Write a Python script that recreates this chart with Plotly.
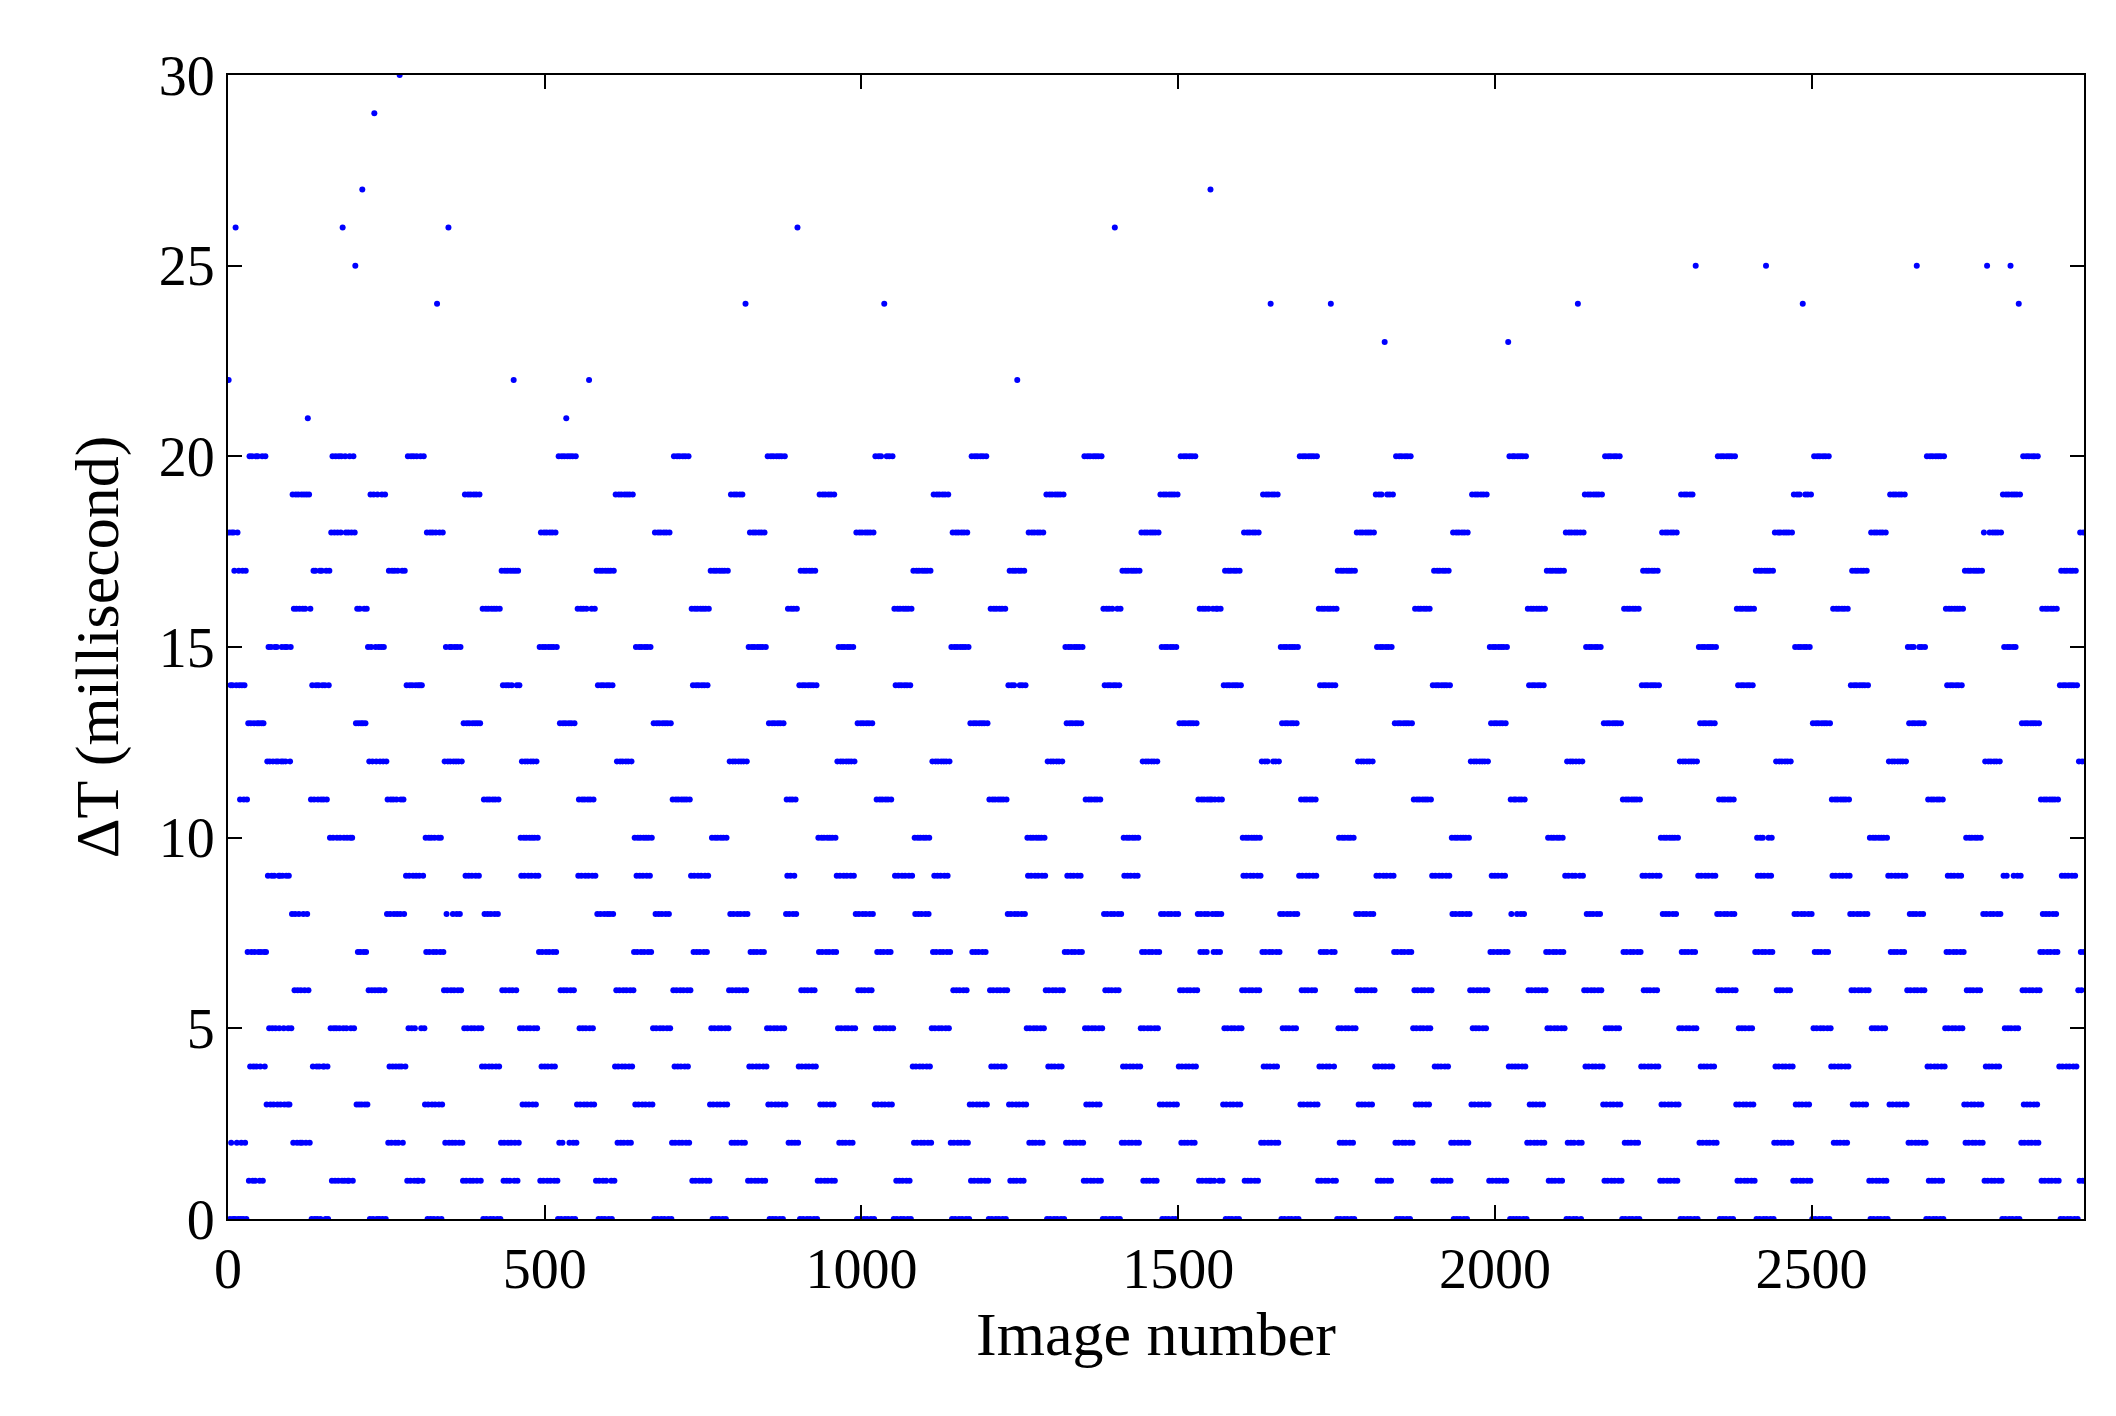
import numpy as np
import plotly.graph_objects as go

# delta T per image, one character per image
# code: 0-9 -> 0-9 ms, a..u -> 10..30 ms (spaces are only for readability)
dt_codes = [
    "mi0e2ie0ih 0qe2i0heb0 2eh0be2h0b 7d1k4d7k14 d71k4dk7d1 47dk1d74k7 3c9f5c3f95 c39f5cf3c9 593cf9c53f c9f3593cf5",
    "8j2g68jg26 j8g26j2g8j 6g2j8l6j2g b0e4hb0he4 0be4h0bhe4 b4e0hb40eh a5i1ka5i1k 5ai1k5aik1 q5a1ki5a1i 1ka5ia1k5i",
    "pd3g7d3g7d 3rd7g3d7g3 f6c0jf6c0j t6fc0j6f0c 6fj0cf6j0c 8b2h48b2h4 b8h24b8h24 u8b4h2b8h4 9e1k59e1k5 e9k15e9k1e",
    "19ek5e19k5 3a7i03a7i0 a3i70a3i7o 0a3i7a03i7 6c2f86cq2f c6f28c6f2c 8f6c28f6c2 1d5j91d5j9 d1j59d1j5d 9j1d59jd15",
    "4g0b84g0b8 g4b08g4b0g 8b4g08b4g0 2h6e12h6e1 h2e61h2e6h m12h6e1h2e 5a9c35a9c3 a5c93a5c9a 3c5a93c5a9 7f1i47f1i4",
    "f7i14f7i1f 4i7f14i7f1 0k2d60k2d6 k0dl6k0d2k 6d0k26d0k2 3g9b53g9b5 g3b95g3b9m 5b3g95b3g9 1h8e01h8e0 h1e80h1e8h",
    "0e8h10e8h1 4j6c24j6c2 j4c62j4c6j 2c4j62c4j6 7a3f97a3f9 a7f39a7f3a 9f7a39f7a3 5d0i85d0i8 d5i08d5i0d 8i5d08i5d0",
    "2b6k42b6k4 b2k64b2k6b 4k2b64k2b6 9g1e79g1e7 g9e17g9e1g 7e9g17e9g1 3h5a03h5a0 h3a50h3a5h 0a3h50a3h5 6c8j26c8j2",
    "c6j82c6j8c 2j6c82o6c8 1f4i71f4i7 f1i47f1i4f 7i1f47i1f4 5k3d05k3d0 k5d30k5d3k 0d5k30d5k3 8b9g28b9g2 b8g92b8gq2",
    "4e0h64e0h6 e4h06e4h0e 6h4e06h4e0 1a7j31a7j3 a1j73a1j7a 3j1a73j1a7 9c5f29c5f2 c9f52c9f5c 2f9c52f9c5 8i0d68i0d6",
    "i8d06i8d0i 6d8i06d8i0 3k5b73k5b7 k3b57o3b5k 7b3k57b3k5 0g9e10g9e1 g0e91g0e9g 1e0g91e0g9 4h2a84h2a8 h4a28h4a2h",
    "8a4h28a4h2 5c7j95c7j9 c5j79c5j7c 9j5c79j5c7 2f0i62f0i6 f2i06f2i0f 6i2f06i2f0 3d1k73d1k7 d3k17d3k1d 7k3d17k3d1",
    "0b6g40b6g4 b0g64b0g6b 4g0b64g0b6 8e3h18e3h1 e8h31m8h3e 1h8e31h8e3 5a9i25a9i2 a5i92a5i9a 2i5a92i5a9 6j0c46j0c4",
    "j6c04j6c0j 4c6j04c6j0 7f2d97f2d9 f7d29f7d2f 9d7f29d7f2 1k5b31k5b3 k1b53k1b5k 3b1k53b1k5 0g8e60g8e6 g0e86g0e8q",
    "6e0g86e0g8 2h4a92h4a9 h2a49h2a4h 9a2h49a2h4 5i7c15i7c1 i5c71i5c7i 1c5i71c5i7 3j8f03j8f0 j3f80j3f8j 0f3j80f3j8",
    "4d6k24d6k2 d4k62d4k6d 2k4d62k4d6 8b1g78b1g7 b8g17b8g1b r1b8g71b8g 7g8b17g8b1 3e5h03e5h0 e3h50e3h5e 0h3e50h3e5",
    "6a9i16a9i1 a6i91a6i9a 1i6a91i6a9 2c7j42c7j4 c2j74o2j7c 4j2c74j2c7 8f0d58f0d5 f8d05f8d0f 5d8f05d8f0 9k3b69k3b6",
    "k9b36k9b3k 6b9k36b9k3 1g4e71g4e7 g1e47g1e4g o7e1g47e1g 0h5a20h5a2 h0a52h0a5h 2a0h52a0h5 8i6c38i6c3 i8c63i8c6i",
    "3c8i63c8i6 4j9f14j9f1 j4f91n4f9j 1f4j91f4j9 7d2k07d2k0 d7k20d7k2d 0k7d20k7d2 5b6g35b6g3 b5g63b5g6b 3g5b63g5b6",
    "9e1h49e1h4 e9h14e9h1e 4h9e14h9e1 2a8i02a8i0 a2i80a2i8a 0i2a80i2a8 6c3j56c3j5 c6j35c6j3c 5j6c35j6c3 1f7d91f7d9",
    "f1d79f1d7f 9d1f79d1f7 n4k0b84k0b k4b08k4b0k 8b4k08b4k0 2g6e32g6e3 g2e63g2e6g 3e2g63e2g6 7h5a17h5a1 h7a51h7a5h",
    "1a7h51a7h5 9i0c29i0c2 i9c02i9c0i o2c9i02c9i 6j4f86j4f8 j6f48j6f4j 8f6j48f6j4 3d1k53d1k5 d3k15d3k1d 5k3d15k3d1",
    "0b7g20b7g2 b0g72b0g7b 2g0b72g0b7 4e9h64e9h6 e4h96e4h9e 6h4e96h4e9 1a3i81a3i8 a1i38a1i3a 8i1a38i1a3 5c0j75c0j7",
    "c5j07c5j0c 7j5c07p5c0 9f2d49f2d4 f9d24f9d2f 4d9f24d9f2 8k6b08k6b0 k8b60k8b6k 0b8k60b8k6 3g1e53g1e5 g3e15g3e1g",
    "5e3g15e3g1 7h0a97h0a9 h7a09h7p0h 9a7h09a7h0 2i4c62i4c6 i2c46i2c4i 6c2i46c2i4 1j8f31j8f3 j1f83o1f8j 3f1j83f1j8",
    "0d5k70d5k7 d0k57d0k5d 7k0d57k0d5 4b9g24b9g2 b4g92b4g9b 2g4b92g4b9 8e6h38e6h3 e8h63e8h6e 3h8e63h8e6 1a0i51a0i5",
    "a1i05a1i0a 5i1a05i1a0 9c3j79c3j7 c9j37c9j3c 7j9c37j9c3 6f2d86f2d8 f6d28p6d2f 8d6f28d6f2 0k4b10k4b1 k0b41k0b4k",
    "1b0k41b0k4 5g7e95g7e9 g5e79g5e7g 9e5g79e5g7 3h2a63h2a6 h3a26h3a2h 6a3h26a3h2 8i1c48p1c4 i8c14i8c1i 4c8i14c8i1",
    "0j9f50j9f5 j0fp5j0f9j 5f0j95o0j9 2d6k32d6k3 d2k63d2k6d 3k2d63k2d6 7b1g87b1g8 b7g18b7g1b 8g7b18g7b1 4e0h94e0h9",
    "e4h09e4h0e 9h4e09h4e0 6c1i76c1i7",
]

x_ticks = [0, 500, 1000, 1500, 2000, 2500]
y_ticks = [0, 5, 10, 15, 20, 25, 30]

delta_t = np.array([int(c, 36) for c in "".join(dt_codes).replace(" ", "")])
image_no = np.arange(1, len(delta_t) + 1)

fig = go.Figure(go.Scatter(
    x=image_no, y=delta_t, mode='markers',
    marker=dict(color='#0000ff', size=6),
    showlegend=False,
))

axis_common = dict(
    showline=True, linecolor='black', linewidth=2, mirror='ticks',
    ticks='inside', ticklen=14, tickwidth=1.5, tickcolor='black',
    showgrid=False, zeroline=False,
    tickfont=dict(family='Liberation Serif', size=56, color='black'),
)

fig.update_layout(
    width=2116, height=1416,
    paper_bgcolor='white', plot_bgcolor='white',
    margin=dict(l=220, r=40, t=67, b=205),
    xaxis=dict(axis_common, range=[0, 2930], tickvals=x_ticks,
               title=dict(text='Image number', standoff=12,
                          font=dict(family='Liberation Serif', size=62, color='black'))),
    yaxis=dict(axis_common, range=[0, 30], tickvals=y_ticks,
               title=dict(text='ΔT (millisecond)', standoff=20,
                          font=dict(family='Liberation Serif', size=62, color='black'))),
)

fig.write_html("out.html")
